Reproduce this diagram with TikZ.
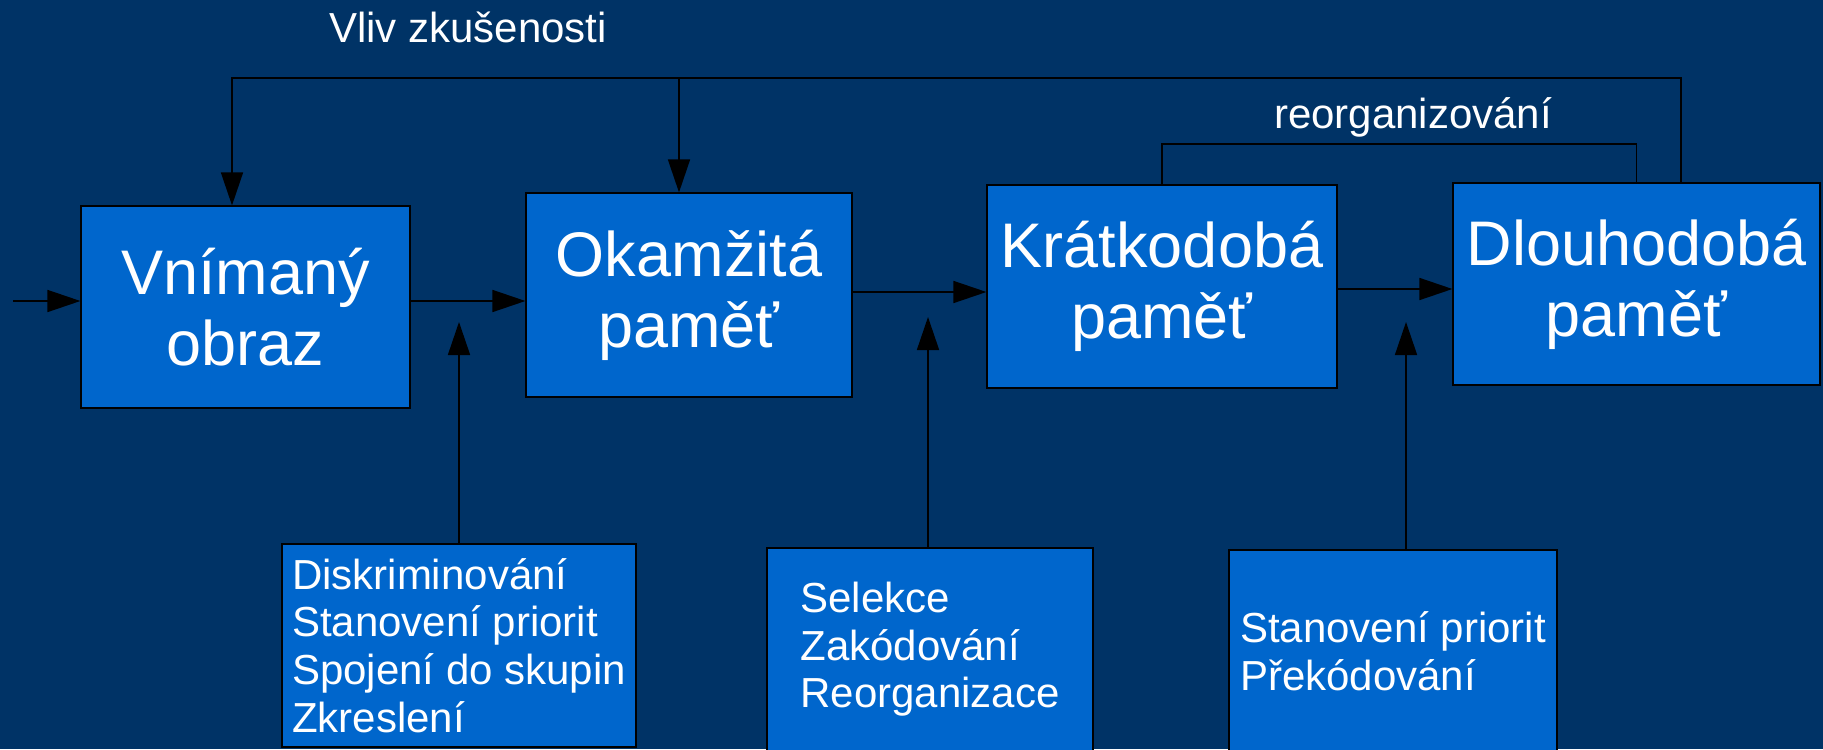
\documentclass[tikz,border=0pt]{standalone}
\usepackage{fontspec}
\setmainfont{Liberation Sans}
\usepackage{tikz}
\definecolor{bg}{RGB}{0, 51, 102}
\definecolor{bb}{RGB}{0, 102, 204}
\usetikzlibrary{arrows.meta}

\begin{document}
\begin{tikzpicture}[x=0.5pt, y=-0.5pt,
bigbox/.style={rectangle, fill=bb, draw=black, line width=0.6pt, text=white, align=center, inner sep=2pt, font=\fontsize{31.5pt}{35.5pt}\selectfont},
smallbox/.style={rectangle, fill=bb, draw=black, line width=0.6pt, text=white, align=left, inner sep=2pt, font=\fontsize{21pt}{23.8pt}\selectfont},
lbl/.style={text=white, inner sep=0pt, anchor=base, font=\fontsize{21pt}{23.8pt}\selectfont},
arr/.style={line width=0.8pt, color=black, -{Triangle[length=16.5pt, width=11pt]}},
ln/.style={line width=0.8pt, color=black}]
\fill [bg] (0,0) rectangle (1823,749);
\useasboundingbox (0,0) rectangle (1823,749);
\node (1) [bigbox, minimum width=164.5pt, minimum height=101pt] at (245.5, 307) {Vnímaný\\obraz};
\node (2) [bigbox, minimum width=163pt, minimum height=102pt] at (689, 295) {Okamžitá\\paměť};
\node (3) [bigbox, minimum width=175pt, minimum height=101.5pt] at (1162, 286.5) {Krátkodobá\\paměť};
\node (4) [bigbox, minimum width=183.5pt, minimum height=101pt] at (1636.5, 284) {Dlouhodobá\\paměť};
\node (5) [smallbox, minimum width=177pt, minimum height=101.5pt] at (459, 645.5) {Diskriminování\\Stanovení priorit\\Spojení do skupin\\Zkreslení};
\node (6) [smallbox, minimum width=163pt, minimum height=101.5pt] at (930, 649.5) {Selekce\\Zakódování\\Reorganizace};
\node (7) [smallbox, minimum width=164pt, minimum height=101.5pt] at (1393, 651.5) {Stanovení priorit\\Překódování};
\node (8) [lbl] at (468, 43) {Vliv zkušenosti};
\node (9) [lbl] at (1413, 128) {reorganizování};
\coordinate (in) at (13, 301);
\coordinate (h2) at (920, 292);
\coordinate (h3) at (1400, 289);
\coordinate (tl) at (232, 78);
\coordinate (tr) at (1681, 78);
\coordinate (tm) at (679, 78);
\coordinate (ro) at (1400, 144);
\coordinate (t5) at (459, 322);
\coordinate (t6) at (928, 317);
\coordinate (t7) at (1406, 322);
\draw [arr] (in) to (1.west |- in);
\draw [arr] (1.east |- in) to (2.west |- in);
\draw [arr] (2.east |- h2) to (3.west |- h2);
\draw [arr] (3.east |- h3) to (4.west |- h3);
\draw [arr] (4.north -| tr) |- (tl) -- (1.north -| tl);
\draw [arr] (tm) to (2.north -| tm);
\draw [ln] (3.north) |- (ro) -| (4.north);
\draw [arr] (5.north) to (t5);
\draw [arr] (6.north -| t6) to (t6);
\draw [arr] (7.north -| t7) to (t7);
\end{tikzpicture}
\end{document}
